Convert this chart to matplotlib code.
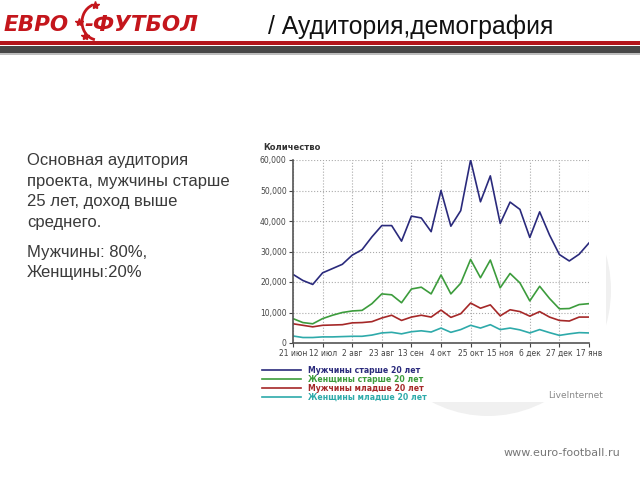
import matplotlib.pyplot as plt
from matplotlib.patches import Ellipse, Rectangle, Arc

# weekly audience by group, 21 Jun .. 17 Jan
men_old = [22500, 20500, 19200, 23000, 24400, 25800, 28800, 30600, 34800, 38500,
           38500, 33400, 41600, 41000, 36500, 50000, 38300, 43400, 60000, 46300,
           54800, 39200, 46200, 43800, 34600, 43000, 35400, 29000, 26900, 29100, 32800]
women_old = [8000, 6700, 6300, 8000, 9100, 10000, 10500, 10700, 12900, 16100,
             15800, 13200, 17700, 18300, 16100, 22300, 16100, 19600, 27400, 21400,
             27200, 18100, 22800, 19700, 13800, 18600, 14600, 11200, 11300, 12600, 12900]
men_young = [6300, 5800, 5300, 5800, 5900, 6000, 6600, 6700, 7000, 8200,
             9100, 7400, 8500, 9100, 8500, 10800, 8400, 9600, 13100, 11400,
             12500, 8900, 10900, 10300, 8800, 10300, 8500, 7400, 7200, 8500, 8500]
women_young = [2300, 1800, 1800, 2000, 2000, 2100, 2200, 2200, 2600, 3300,
               3500, 3000, 3700, 4000, 3600, 4900, 3500, 4400, 5800, 4900,
               6000, 4400, 4900, 4300, 3300, 4400, 3400, 2500, 3000, 3400, 3300]
series_names = ["Мужчины старше 20 лет", "Женщины старше 20 лет",
                "Мужчины младше 20 лет", "Женщины младше 20 лет"]
series_colors = ["#2a2a7c", "#3c9c3c", "#a52828", "#2eaaaa"]
tick_labels = ["21 июн", "12 июл", "2 авг", "23 авг", "13 сен", "4 окт",
               "25 окт", "15 ноя", "6 дек", "27 дек", "17 янв"]
y_ticks = [0, 10000, 20000, 30000, 40000, 50000, 60000]

fig = plt.figure(figsize=(6.4, 4.8), dpi=100)

# slide background in pixel coords
bg = fig.add_axes([0, 0, 1, 1])
bg.set_xlim(0, 640)
bg.set_ylim(480, 0)
bg.axis("off")

# header
bg.add_patch(Rectangle((0, 41), 640, 4, color="#b3161c", lw=0))
bg.add_patch(Rectangle((0, 46), 640, 7, color="#474747", lw=0))
bg.add_patch(Rectangle((0, 53), 640, 2, color="#bdbdbd", lw=0))
bg.text(4, 25, "ЕВРО", color="#c4161c", fontsize=15.5, fontweight="bold",
        fontstyle="italic", va="center", family="DejaVu Sans")
bg.text(84, 25, "-ФУТБОЛ", color="#c4161c", fontsize=15.5, fontweight="bold",
        fontstyle="italic", va="center", family="DejaVu Sans")
bg.add_patch(Arc((98, 22), 32, 36, theta1=100, theta2=250, color="#c4161c", lw=2))
bg.plot([95, 79, 85], [5, 22, 36], ls="none", marker="*", ms=6, color="#c4161c")
bg.text(268, 27, "/ Аудитория,демография", fontsize=17.8, va="center",
        color="#111111", family="Liberation Sans")

# left text
bg.text(27, 153, "Основная аудитория\nпроекта, мужчины старше\n25 лет, доход выше\nсреднего.",
        fontsize=12, va="top", color="#3a3a3a", linespacing=1.47, family="Liberation Sans")
bg.text(27, 245, "Мужчины: 80%,\nЖенщины:20%", fontsize=12, va="top",
        color="#3a3a3a", linespacing=1.42, family="Liberation Sans")

# soft shadow behind chart picture
bg.add_patch(Ellipse((488, 290), 246, 252, color="#f0f0f0", lw=0))
bg.add_patch(Rectangle((255, 137), 351, 265, color="white", lw=0))

bg.text(263, 147, "Количество", fontsize=6, fontweight="bold", color="#333333", va="center")
bg.text(603, 395, "LiveInternet", fontsize=6.5, color="#888888", va="center", ha="right")
bg.text(620, 453, "www.euro-football.ru", fontsize=8, color="#777777", va="center", ha="right")

# chart
ax = fig.add_axes([293 / 640, 1 - 343 / 480, 296 / 640, 183 / 480])
ax.set_facecolor("none")
weeks = list(range(len(men_old)))
for vals, name, col in zip([men_old, women_old, men_young, women_young], series_names, series_colors):
    ax.plot(weeks, vals, color=col, lw=1.2, label=name)
ax.set_xlim(0, 30)
ax.set_ylim(0, 60000)
ax.set_xticks(range(0, 31, 3))
ax.set_xticklabels(tick_labels)
ax.set_yticks(y_ticks)
ax.set_yticklabels([f"{v:,}" for v in y_ticks])
ax.tick_params(labelsize=5.5, colors="#444444", length=3, width=0.8, pad=1.5)
ax.grid(True, ls=":", color="#aaaaaa", lw=0.8)
for s in ["top", "right"]:
    ax.spines[s].set_visible(False)
for s in ["left", "bottom"]:
    ax.spines[s].set_color("#555555")
    ax.spines[s].set_linewidth(1.2)

leg = fig.legend(loc="upper left", bbox_to_anchor=(258 / 640, 1 - 362 / 480),
                 frameon=False, fontsize=5.6, handlelength=5.0, labelspacing=0.0,
                 handletextpad=0.9, borderpad=0)
for txt, col in zip(leg.get_texts(), series_colors):
    txt.set_color(col)
    txt.set_fontweight("bold")

fig.savefig("out.png", dpi=100)
